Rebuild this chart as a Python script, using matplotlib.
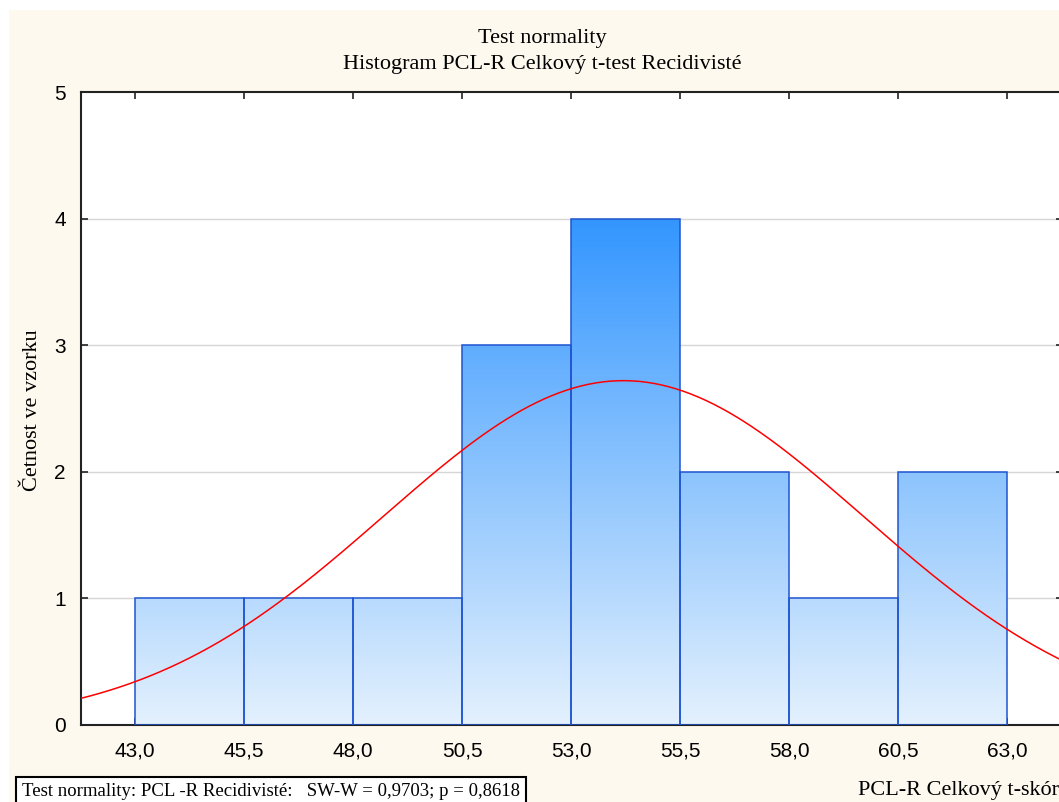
import numpy as np
import matplotlib
matplotlib.use("Agg")
import matplotlib.pyplot as plt
from matplotlib.colors import LinearSegmentedColormap
from matplotlib.patches import Rectangle

# histogram data
bin_edges = [43.0, 45.5, 48.0, 50.5, 53.0, 55.5, 58.0, 60.5, 63.0]
counts = [1, 1, 1, 3, 4, 2, 1, 2]
curve_mean = 54.2
curve_sd = 5.5
y_ticks = [0, 1, 2, 3, 4, 5]

title_1 = "Test normality"
title_2 = "Histogram PCL-R Celkový t-test Recidivisté"
y_label = "Četnost ve vzorku"
x_label = "PCL-R Celkový t-skór"
test_text = "Test normality: PCL -R Recidivisté:   SW-W = 0,9703; p = 0,8618"

W, H = 1059, 802
fig = plt.figure(figsize=(W / 100, H / 100), dpi=100, facecolor="white")

# cream background panel (white margin at top-left)
fig.patches.append(Rectangle((9 / W, 0), 1, 1 - 10 / H, transform=fig.transFigure,
                             facecolor="#FDF9EE", edgecolor="none", zorder=-10))

ax = fig.add_axes([81 / W, 1 - 725 / H, (1063 - 81) / W, (725 - 92) / H])
ax.set_facecolor("white")

width = bin_edges[1] - bin_edges[0]
xlim = (bin_edges[0] - 1.24, bin_edges[0] - 1.24 + (1063 - 81) / 109 * width)

# gradient fill clipped to bars
cmap = LinearSegmentedColormap.from_list("bluegrad", ["#E4F1FD", "#3396FF"])
grad = np.linspace(0, 1, 256).reshape(-1, 1)
bars = ax.bar(bin_edges[:-1], counts, width=width, align="edge",
              facecolor="none", edgecolor="#1F55D0", linewidth=1.1, zorder=3)
for b in bars:
    im = ax.imshow(grad, cmap=cmap, origin="lower", aspect="auto",
                   extent=[xlim[0], xlim[1], 0, 4], zorder=2)
    im.set_clip_path(b)

# normal curve
xs = np.linspace(xlim[0], xlim[1], 400)
n = sum(counts)
ys = n * width / (curve_sd * np.sqrt(2 * np.pi)) * np.exp(-0.5 * ((xs - curve_mean) / curve_sd) ** 2)
ax.plot(xs, ys, color="#FF0000", linewidth=1.1, zorder=4)

ax.set_xlim(*xlim)
ax.set_ylim(0, 5)

# grid
for yv in y_ticks[1:-1]:
    ax.axhline(yv, color="#D6D6D6", linewidth=1, zorder=1)

ax.set_xticks(bin_edges)
ax.set_xticklabels([f"{v:.1f}".replace(".", ",") for v in bin_edges],
                   fontsize=15, family="Liberation Sans")
ax.set_yticks(y_ticks)
ax.set_yticklabels([str(v) for v in y_ticks], fontsize=15, family="Liberation Sans")
ax.tick_params(axis="both", direction="in", length=5, width=1.2, color="#222222",
               top=True, right=True)
ax.tick_params(axis="x", pad=12)
ax.tick_params(axis="y", pad=11)
for s in ax.spines.values():
    s.set_color("#222222")
    s.set_linewidth(1.5)

fig.text(542 / W, 1 - 38 / H, title_1, ha="center", va="center",
         fontsize=16, family="Liberation Serif")
fig.text(542 / W, 1 - 65 / H, title_2, ha="center", va="center",
         fontsize=16, family="Liberation Serif")
fig.text(33 / W, 1 - 410 / H, y_label, ha="center", va="center", rotation=90,
         fontsize=16, family="Liberation Serif")
fig.text(858 / W, 1 - 790 / H, x_label, ha="left", va="center",
         fontsize=16, family="Liberation Serif")
fig.text(22 / W, 1 - 791 / H, test_text, ha="left", va="center",
         fontsize=13.5, family="Liberation Serif",
         bbox=dict(boxstyle="square,pad=0.3", facecolor="white",
                   edgecolor="black", linewidth=1.5))

fig.savefig("out.png", dpi=100, facecolor=fig.get_facecolor())
